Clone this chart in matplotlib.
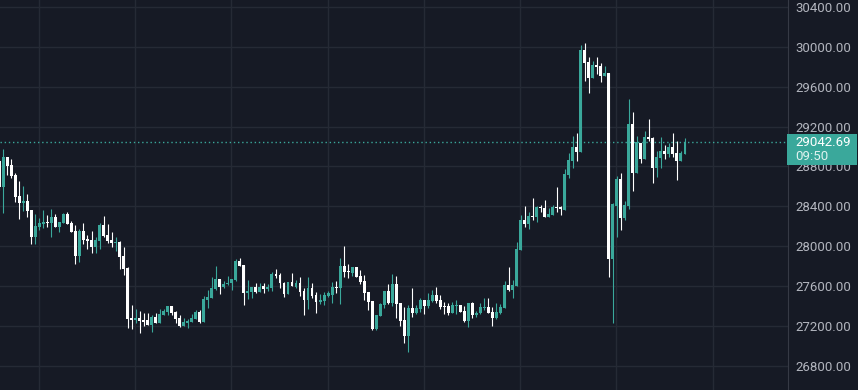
import numpy as np
import matplotlib
matplotlib.use('Agg')
import matplotlib.pyplot as plt
from matplotlib import transforms
from matplotlib.patches import Rectangle

# candles, first one is cut off at the left edge
opens = [28855, 28598, 28896, 28815, 28715, 28504, 28437, 28454, 28364, 28097,
         28190, 28224, 28247, 28237, 28290, 28197, 28237, 28324, 28234, 28153,
         27906, 28153, 28073, 28063, 27996, 28056, 28213, 28113, 28063, 28036,
         28046, 27903, 27786, 27278, 27261, 27278, 27261, 27261, 27211, 27294,
         27234, 27311, 27344, 27401, 27341, 27281, 27204, 27234, 27244, 27274,
         27341, 27244, 27461, 27485, 27572, 27669, 27595, 27618, 27628, 27662,
         27849, 27812, 27535, 27545, 27592, 27545, 27602, 27568, 27585, 27722,
         27712, 27635, 27518, 27638, 27595, 27628, 27552, 27461, 27578, 27511,
         27445, 27455, 27501, 27511, 27595, 27585, 27802, 27752, 27735, 27789,
         27702, 27655, 27545, 27451, 27167, 27304, 27411, 27552, 27428, 27622,
         27435, 27261, 27100, 27378, 27334, 27371, 27462, 27405, 27455, 27512,
         27462, 27405, 27405, 27334, 27405, 27411, 27351, 27251, 27435, 27311,
         27328, 27385, 27395, 27338, 27284, 27328, 27385, 27612, 27562, 27605,
         27966, 28264, 28224, 28307, 28297, 28391, 28384, 28297, 28314, 28397,
         28391, 28364, 28715, 28859, 28999, 28949, 29968, 29845, 29691, 29818,
         29808, 29711, 29741, 27872, 28407, 28675, 28280, 28407, 29226, 28738,
         29039, 28875, 29099, 29089, 28788, 28889, 28956, 28925, 28999, 28939,
         28859, 28925]
highs = [28880, 28976, 28896, 28875, 28735, 28655, 28605, 28524, 28364, 28324,
         28280, 28364, 28314, 28374, 28324, 28244, 28331, 28344, 28257, 28213,
         28173, 28234, 28113, 28157, 28090, 28230, 28304, 28224, 28143, 28090,
         28053, 27996, 27796, 27411, 27371, 27351, 27328, 27328, 27311, 27328,
         27371, 27371, 27401, 27401, 27354, 27308, 27278, 27274, 27321, 27361,
         27361, 27502, 27562, 27695, 27802, 27669, 27655, 27702, 27669, 27869,
         27879, 27812, 27662, 27592, 27635, 27628, 27635, 27622, 27739, 27772,
         27729, 27645, 27645, 27732, 27662, 27689, 27578, 27695, 27628, 27545,
         27518, 27545, 27555, 27645, 27655, 27879, 28006, 27822, 27789, 27796,
         27762, 27712, 27545, 27455, 27311, 27428, 27552, 27618, 27722, 27702,
         27435, 27394, 27411, 27578, 27411, 27478, 27462, 27528, 27562, 27595,
         27512, 27445, 27428, 27445, 27462, 27411, 27401, 27435, 27445, 27355,
         27435, 27485, 27485, 27395, 27435, 27421, 27652, 27792, 27662, 28046,
         28314, 28404, 28347, 28488, 28404, 28414, 28464, 28381, 28414, 28598,
         28404, 28772, 28939, 29106, 29133, 30019, 30042, 29895, 29858, 29895,
         29841, 29808, 29741, 28431, 28705, 28732, 28454, 29477, 29350, 29106,
         29039, 29156, 29276, 29099, 28956, 29099, 29016, 29039, 29139, 29059,
         28959, 29089]
lows = [28560, 28337, 28715, 28682, 28448, 28270, 28357, 28297, 28020, 28020,
        28163, 28180, 28190, 28097, 28197, 28140, 28237, 28227, 28147, 27819,
        27846, 28020, 27969, 27936, 27929, 27969, 28097, 28030, 27990, 27956,
        27776, 27715, 27184, 27167, 27234, 27127, 27201, 27211, 27144, 27234,
        27234, 27311, 27311, 27311, 27227, 27194, 27204, 27184, 27244, 27274,
        27234, 27244, 27384, 27485, 27562, 27521, 27585, 27608, 27562, 27655,
        27806, 27411, 27471, 27485, 27535, 27545, 27535, 27555, 27555, 27679,
        27585, 27488, 27518, 27605, 27585, 27505, 27311, 27374, 27485, 27334,
        27418, 27408, 27495, 27428, 27535, 27421, 27689, 27679, 27702, 27695,
        27622, 27461, 27361, 27160, 27160, 27304, 27378, 27421, 27401, 27284,
        27201, 27033, 26943, 27294, 27321, 27344, 27321, 27385, 27445, 27435,
        27371, 27321, 27311, 27334, 27321, 27344, 27244, 27194, 27278, 27288,
        27318, 27361, 27328, 27204, 27274, 27321, 27385, 27555, 27485, 27605,
        27966, 28197, 28170, 28264, 28247, 28347, 28297, 28297, 28314, 28347,
        28314, 28364, 28688, 28782, 28859, 28949, 29661, 29534, 29684, 29728,
        29651, 29711, 27695, 27234, 28096, 28163, 28263, 28374, 28558, 28738,
        28839, 28875, 29059, 28638, 28698, 28788, 28872, 28899, 28892, 28665,
        28859, 28925]
closes = [28598, 28896, 28809, 28708, 28498, 28437, 28458, 28357, 28097, 28204,
          28237, 28247, 28237, 28290, 28197, 28244, 28324, 28227, 28147, 27906,
          28153, 28063, 28056, 27996, 28063, 28213, 28103, 28056, 28036, 28046,
          27896, 27776, 27271, 27261, 27278, 27254, 27244, 27211, 27294, 27234,
          27324, 27351, 27401, 27334, 27274, 27204, 27241, 27251, 27281, 27341,
          27241, 27471, 27491, 27585, 27672, 27595, 27622, 27635, 27669, 27849,
          27806, 27535, 27552, 27592, 27545, 27595, 27568, 27595, 27722, 27705,
          27628, 27518, 27638, 27605, 27628, 27545, 27461, 27578, 27505, 27445,
          27461, 27511, 27528, 27595, 27585, 27802, 27739, 27739, 27789, 27695,
          27645, 27535, 27445, 27167, 27311, 27421, 27552, 27428, 27622, 27421,
          27251, 27100, 27378, 27334, 27378, 27462, 27405, 27462, 27512, 27455,
          27395, 27395, 27334, 27411, 27411, 27344, 27251, 27428, 27311, 27334,
          27395, 27395, 27334, 27284, 27338, 27395, 27612, 27562, 27612, 27973,
          28264, 28220, 28304, 28297, 28391, 28381, 28297, 28324, 28397, 28387,
          28371, 28725, 28865, 28999, 28949, 29968, 29841, 29691, 29818, 29801,
          29711, 29741, 27872, 28421, 28675, 28287, 28414, 29226, 28738, 29042,
          28875, 29099, 29076, 28788, 28899, 28956, 28925, 28999, 28925, 28859,
          28939, 29042.69]

price_ticks = [26800, 27200, 27600, 28000, 28400, 28800, 29200, 29600, 30000, 30400]
last_time = '09:50'

bg = '#161a25'
up = '#3aa89b'
down = '#ffffff'
grid = '#252a35'
txt = '#b2b5be'

o = np.array(opens, dtype=float)
h = np.array(highs, dtype=float)
l = np.array(lows, dtype=float)
c = np.array(closes, dtype=float)
x = np.arange(len(o)) - 1
colors = np.where(c >= o, up, down)

fig = plt.figure(figsize=(8.58, 3.9), dpi=100)
fig.patch.set_facecolor(bg)
ax = fig.add_axes([0, 0, 788 / 858, 1])
ax.set_facecolor(bg)

ax.vlines(x, l, h, colors=colors, linewidth=0.8, zorder=3)
body = np.maximum(np.abs(c - o), 8)
ax.bar(x, body, bottom=np.minimum(o, c), width=0.72, color=colors,
       linewidth=0, zorder=4)

last = c[-1]
ax.axhline(last, color=up, linewidth=1, linestyle=(0, (1, 2)), zorder=2)

ax.set_xlim(-0.82, 195.7)
ax.set_ylim(26558, 30470)
ax.set_xticks(np.arange(9, 190, 24) - 0.1)
ax.set_yticks(price_ticks)
ax.set_yticklabels(['%.2f' % p for p in price_ticks])
ax.yaxis.tick_right()
ax.tick_params(axis='y', length=0, pad=5, labelcolor=txt, labelsize=9.5)
ax.tick_params(axis='x', length=0, labelbottom=False)
for lab in ax.get_yticklabels():
	lab.set_family('Roboto')
ax.grid(color=grid, linewidth=1, zorder=0)
ax.set_axisbelow(True)
for s in ['top', 'left', 'bottom']:
	ax.spines[s].set_visible(False)
ax.spines['right'].set_color('#363a45')

# last price label on the axis
tr = transforms.blended_transform_factory(fig.transFigure, ax.transData)
fig.patches.append(Rectangle((787 / 858, last - 224), 69.5 / 858, 308,
                             transform=tr, facecolor=up, edgecolor='none',
                             zorder=1))
fig.text(795 / 858, last, '%.2f' % last, transform=tr, va='center',
         color='white', fontsize=9.5, family='Roboto', zorder=3)
fig.text(795 / 858, last - 145, last_time, transform=tr, va='center',
         color='#dff2ef', fontsize=9.5, family='Roboto', zorder=3)

fig.savefig('out.png', dpi=100, facecolor=bg)
